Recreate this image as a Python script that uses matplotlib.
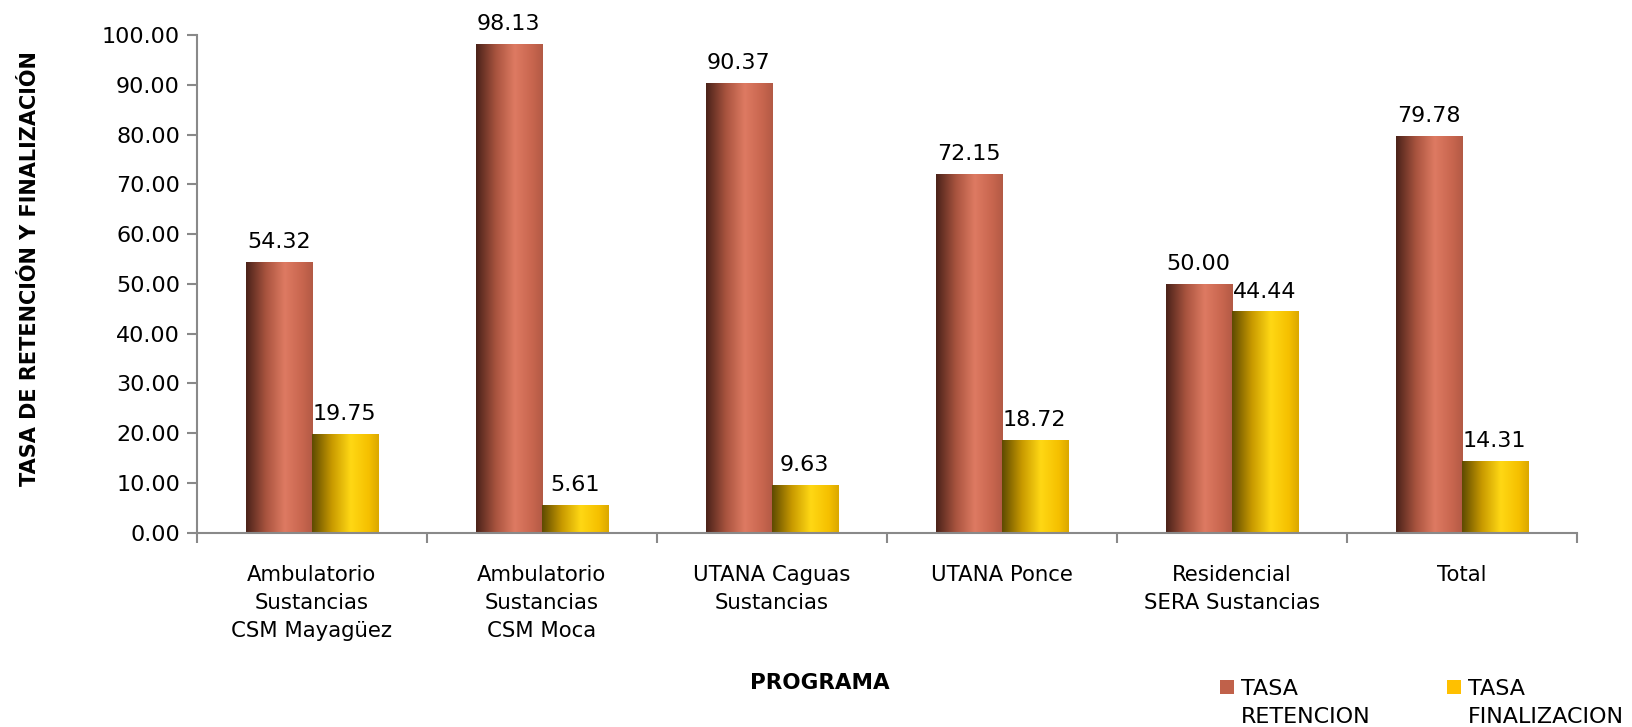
import numpy as np
import matplotlib.pyplot as plt
from matplotlib.colors import LinearSegmentedColormap
from matplotlib.patches import Rectangle

categories = ['Ambulatorio\nSustancias\nCSM Mayagüez', 'Ambulatorio\nSustancias\nCSM Moca',
              'UTANA Caguas\nSustancias', 'UTANA Ponce', 'Residencial\nSERA Sustancias', 'Total']
retencion = [54.32, 98.13, 90.37, 72.15, 50.00, 79.78]
finalizacion = [19.75, 5.61, 9.63, 18.72, 44.44, 14.31]
series_names = [('TASA', 'RETENCION'), ('TASA', 'FINALIZACION')]

plt.rcParams['font.family'] = ['DejaVu Sans']
FS = 16

fig = plt.figure(figsize=(16.32, 7.27), dpi=100)
ax = fig.add_axes([0.1205, 0.2673, 0.8456, 0.6846])

x = np.arange(len(categories))
w = 0.287

red_cmap = LinearSegmentedColormap.from_list('r', [(0, '#4a2219'), (0.3, '#a9543f'), (0.58, '#de7a62'),
                                                   (0.85, '#c7654e'), (1, '#b35a45')])
yel_cmap = LinearSegmentedColormap.from_list('y', [(0, '#5e4a00'), (0.3, '#c99a00'), (0.58, '#ffd814'),
                                                   (0.85, '#f5c000'), (1, '#dba800')])
grad = np.linspace(0, 1, 256).reshape(1, -1)


def grad_bars(xs, vals, cmap):
    bars = ax.bar(xs, vals, w, color='none', edgecolor='none')
    for b in bars:
        im = ax.imshow(grad, cmap=cmap, aspect='auto', interpolation='bicubic',
                       extent=[b.get_x(), b.get_x() + b.get_width(), 0, b.get_height()], zorder=2)
        im.set_clip_path(b)
    return bars


grad_bars(x - w / 2, retencion, red_cmap)
grad_bars(x + w / 2, finalizacion, yel_cmap)

for xs, vals in [(x - w / 2, retencion), (x + w / 2, finalizacion)]:
    for xi, v in zip(xs, vals):
        ax.text(xi, v + 2.0, f'{v:.2f}', ha='center', va='bottom', fontsize=FS)

ax.set_xlim(-0.5, len(categories) - 0.5)
ax.set_ylim(0, 100)
ax.set_yticks(np.arange(0, 101, 10))
ax.set_yticklabels([f'{v:.2f}' for v in np.arange(0, 101, 10)], fontsize=FS)
ax.set_xticks(x)
ax.set_xticklabels(categories, fontsize=15.3, linespacing=1.5)
ax.tick_params(axis='x', length=0, pad=23)
ax.set_xticks(np.arange(-0.5, len(categories)), minor=True)
ax.tick_params(axis='x', which='minor', length=7, color='#898989', width=1.5)
ax.tick_params(axis='y', length=7, color='#898989', width=1.5, pad=5)

for s in ['top', 'right']:
    ax.spines[s].set_visible(False)
for s in ['left', 'bottom']:
    ax.spines[s].set_color('#898989')
    ax.spines[s].set_linewidth(1.5)

fig.text(0.0184, 0.631, 'TASA DE RETENCIÓN Y FINALIZACIÓN', rotation=90, ha='center', va='center',
         fontsize=15, fontweight='bold')
fig.text(0.5024, 0.061, 'PROGRAMA', ha='center', va='center', fontsize=15.5, fontweight='bold')

# legend drawn by hand so the square sits on the first text line
for (l1, l2), col, x0 in zip(series_names, ['#c0614a', '#ffc000'], [1220, 1447]):
    fig.patches.append(Rectangle((x0 / 1632, 1 - 694 / 727), 14 / 1632, 14 / 727,
                                 transform=fig.transFigure, facecolor=col, edgecolor='none'))
    fig.text((x0 + 21) / 1632, 1 - 695 / 727, l1, fontsize=FS, va='baseline')
    fig.text((x0 + 21) / 1632, 1 - 723 / 727, l2, fontsize=FS, va='baseline')

fig.savefig('out.png', dpi=100)
